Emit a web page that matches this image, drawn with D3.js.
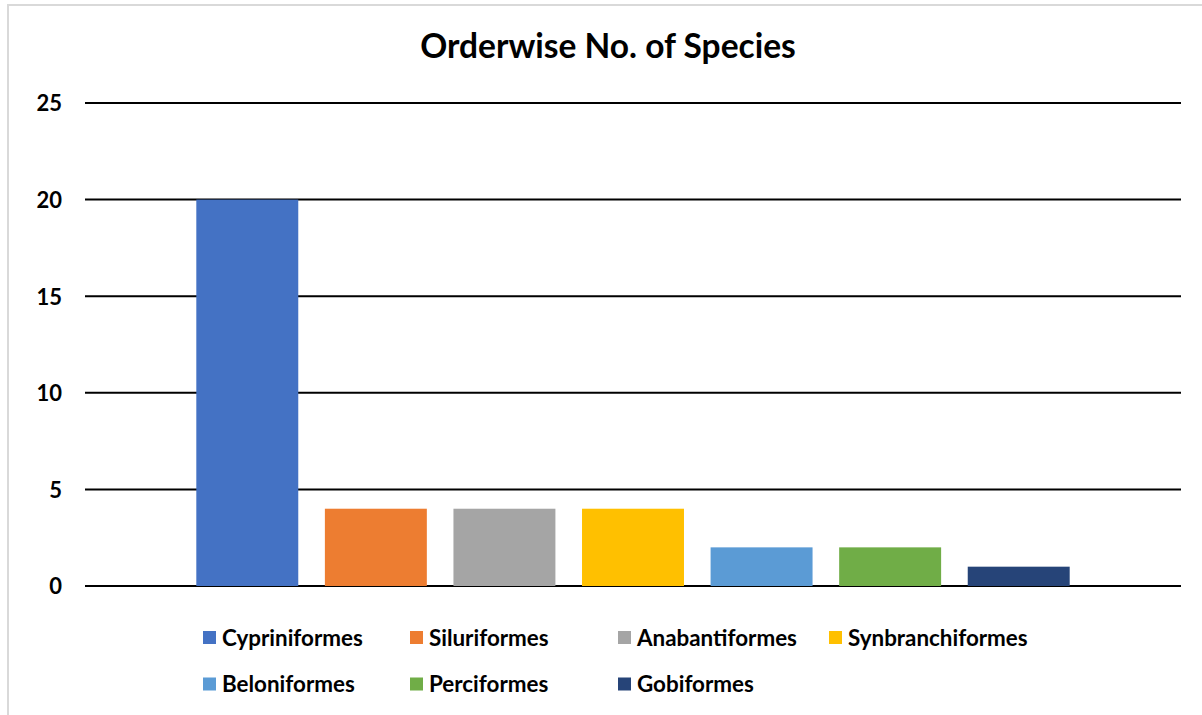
<!DOCTYPE html>
<html>
<head>
<meta charset="utf-8">
<script src="https://cdn.jsdelivr.net/npm/d3@7"></script>
<style>
  html, body { margin: 0; padding: 0; background: #fff; }
  svg { display: block; }
  text { font-family: Lato, "Open Sans", "Liberation Sans", sans-serif; font-weight: 700; fill: #000; }
</style>
</head>
<body>
<svg id="chart" width="1202" height="715"></svg>
<script>
// Number of species recorded per order
const orders = ["Cypriniformes", "Siluriformes", "Anabantiformes", "Synbranchiformes",
                "Beloniformes", "Perciformes", "Gobiformes"];
const species = [20, 4, 4, 4, 2, 2, 1];
const orderColors = ["#4472C4", "#ED7D31", "#A5A5A5", "#FFC000", "#5B9BD5", "#70AD47", "#264478"];
const yTicks = [0, 5, 10, 15, 20, 25];
const chartTitle = "Orderwise No. of Species";

const svg = d3.select("#chart");
const W = 1202, H = 715;

// chart frame
svg.append("rect").attr("x", 8).attr("y", 5).attr("width", W + 10).attr("height", H + 10)
  .attr("fill", "#fff").attr("stroke", "#d9d9d9").attr("stroke-width", 2);

// title
svg.append("text").attr("x", 608).attr("y", 58).attr("text-anchor", "middle")
  .style("font-size", "33.5px").text(chartTitle);

const plot = { left: 85, right: 1181, top: 103, bottom: 586 };

const y = d3.scaleLinear().domain([0, 25]).range([plot.bottom, plot.top]);
const x = d3.scaleBand().domain(orders).range([183, 1083])
  .paddingInner(0.207).paddingOuter(0.1035);

// gridlines
svg.append("g").selectAll("line").data(yTicks).join("line")
  .attr("x1", plot.left).attr("x2", plot.right)
  .attr("y1", d => y(d)).attr("y2", d => y(d))
  .attr("stroke", "#000").attr("stroke-width", 2);

// y-axis labels
const yAxis = d3.axisLeft(y).tickValues(yTicks).tickSize(0).tickPadding(0);
const gy = svg.append("g").attr("transform", "translate(62,0)").call(yAxis);
gy.select(".domain").remove();
gy.selectAll("text").style("font-size", "22px").style("font-family", null).attr("dy", "0.36em");

// bars
svg.append("g").selectAll("rect").data(orders).join("rect")
  .attr("x", d => x(d)).attr("width", x.bandwidth())
  .attr("y", (d, i) => y(species[i]))
  .attr("height", (d, i) => y(0) - y(species[i]))
  .attr("fill", (d, i) => orderColors[i]);

// legend: four entries per row
const legendCols = [203, 410, 618, 829];
const legendRows = [637.5, 684];
const perRow = 4;
const lg = svg.append("g").selectAll("g").data(orders).join("g")
  .attr("transform", (d, i) => `translate(${legendCols[i % perRow]},${legendRows[Math.floor(i / perRow)]})`);
lg.append("rect").attr("x", 0).attr("y", -6.5).attr("width", 13).attr("height", 13)
  .attr("fill", (d, i) => orderColors[i]);
lg.append("text").attr("x", 19).attr("y", 0).attr("dy", "0.36em")
  .style("font-size", "22.4px").text(d => d);
</script>
</body>
</html>
